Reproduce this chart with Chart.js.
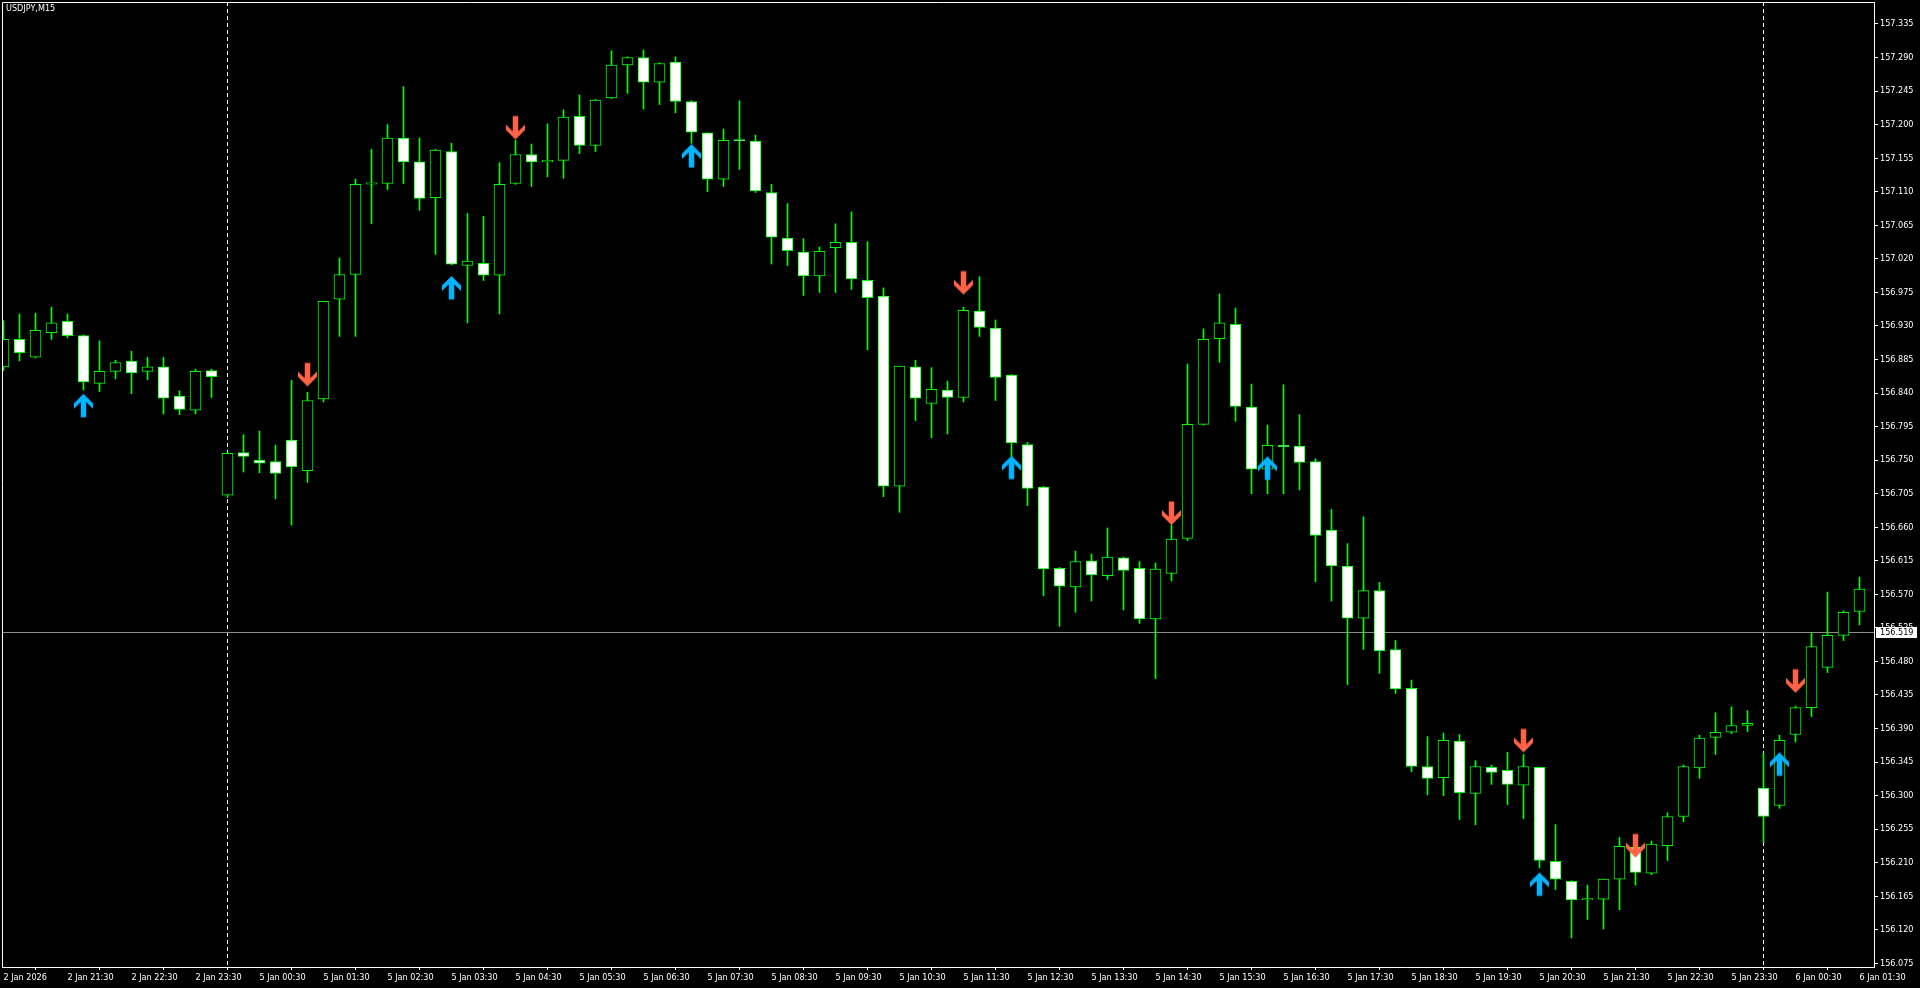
<!DOCTYPE html>
<html>
<head>
<meta charset="utf-8">
<title>USDJPY,M15</title>
<script src="https://cdn.jsdelivr.net/npm/chart.js@4.4.1/dist/chart.umd.min.js"></script>
<style>
  html, body { margin: 0; padding: 0; background: #000; overflow: hidden; }
  canvas { display: block; }
</style>
</head>
<body>
<canvas id="chart" width="1920" height="988"></canvas>
<script>
// USDJPY M15, 2 Jan 20:30 .. 6 Jan 01:30 (117 bars)
const opens = [
  156.875, 156.912, 156.888, 156.921, 156.936, 156.917, 156.853, 156.869, 156.883, 156.869,
  156.875, 156.836, 156.817, 156.870, 156.703, 156.760, 156.750, 156.748, 156.777, 156.736,
  156.832, 156.966, 156.999, 157.120, 157.121, 157.182, 157.150, 157.102, 157.164, 157.011,
  157.014, 156.998, 157.121, 157.160, 157.150, 157.152, 157.211, 157.172, 157.236, 157.280,
  157.290, 157.257, 157.284, 157.231, 157.189, 157.127, 157.180, 157.178, 157.109, 157.048,
  157.029, 156.997, 157.035, 157.042, 156.991, 156.970, 156.715, 156.875, 156.826, 156.844,
  156.834, 156.950, 156.927, 156.864, 156.771, 156.714, 156.605, 156.580, 156.615, 156.595,
  156.619, 156.605, 156.537, 156.598, 156.645, 156.798, 156.913, 156.932, 156.821, 156.738,
  156.770, 156.769, 156.748, 156.656, 156.608, 156.538, 156.575, 156.496, 156.444, 156.339,
  156.324, 156.373, 156.303, 156.338, 156.334, 156.314, 156.338, 156.212, 156.185, 156.160,
  156.161, 156.188, 156.231, 156.196, 156.233, 156.272, 156.337, 156.378, 156.385, 156.394,
  156.310, 156.287, 156.382, 156.418, 156.472, 156.515, 156.547
];
const highs = [
  156.937, 156.946, 156.947, 156.955, 156.946, 156.918, 156.910, 156.884, 156.896, 156.888,
  156.888, 156.843, 156.872, 156.872, 156.761, 156.784, 156.789, 156.770, 156.857, 156.841,
  156.963, 157.021, 157.127, 157.167, 157.200, 157.251, 157.182, 157.167, 157.175, 157.081,
  157.077, 157.149, 157.179, 157.174, 157.201, 157.220, 157.240, 157.234, 157.299, 157.291,
  157.300, 157.283, 157.291, 157.232, 157.189, 157.194, 157.232, 157.186, 157.120, 157.094,
  157.047, 157.036, 157.067, 157.083, 157.043, 156.981, 156.876, 156.884, 156.874, 156.856,
  156.955, 156.996, 156.938, 156.865, 156.774, 156.715, 156.606, 156.628, 156.624, 156.659,
  156.620, 156.614, 156.612, 156.663, 156.879, 156.926, 156.973, 156.954, 156.852, 156.797,
  156.851, 156.811, 156.752, 156.684, 156.638, 156.674, 156.586, 156.508, 156.455, 156.379,
  156.384, 156.382, 156.347, 156.341, 156.358, 156.355, 156.338, 156.261, 156.186, 156.180,
  156.188, 156.244, 156.234, 156.239, 156.277, 156.341, 156.381, 156.411, 156.419, 156.414,
  156.357, 156.381, 156.420, 156.518, 156.573, 156.548, 156.593
];
const lows = [
  156.870, 156.883, 156.887, 156.912, 156.914, 156.844, 156.842, 156.859, 156.839, 156.858,
  156.812, 156.811, 156.812, 156.834, 156.700, 156.734, 156.733, 156.698, 156.663, 156.720,
  156.828, 156.916, 156.916, 157.067, 157.113, 157.121, 157.085, 157.026, 157.012, 156.934,
  156.991, 156.946, 157.120, 157.117, 157.130, 157.128, 157.161, 157.164, 157.235, 157.242,
  157.221, 157.227, 157.216, 157.175, 157.110, 157.117, 157.140, 157.109, 157.013, 157.011,
  156.971, 156.975, 156.975, 156.979, 156.898, 156.701, 156.680, 156.803, 156.780, 156.785,
  156.828, 156.916, 156.830, 156.755, 156.689, 156.568, 156.527, 156.546, 156.561, 156.590,
  156.549, 156.531, 156.457, 156.588, 156.642, 156.797, 156.881, 156.802, 156.705, 156.705,
  156.705, 156.710, 156.587, 156.561, 156.449, 156.496, 156.464, 156.437, 156.332, 156.301,
  156.300, 156.268, 156.261, 156.315, 156.288, 156.269, 156.203, 156.174, 156.109, 156.134,
  156.121, 156.147, 156.180, 156.194, 156.213, 156.265, 156.323, 156.355, 156.383, 156.386,
  156.237, 156.283, 156.372, 156.406, 156.465, 156.508, 156.529
];
const closes = [
  156.912, 156.894, 156.924, 156.934, 156.917, 156.855, 156.869, 156.881, 156.867, 156.875,
  156.833, 156.818, 156.869, 156.862, 156.759, 156.755, 156.746, 156.732, 156.741, 156.830,
  156.963, 156.999, 157.120, 157.122, 157.182, 157.150, 157.101, 157.166, 157.013, 157.017,
  156.998, 157.120, 157.160, 157.150, 157.152, 157.210, 157.172, 157.233, 157.280, 157.290,
  157.257, 157.282, 157.231, 157.190, 157.127, 157.179, 157.178, 157.111, 157.049, 157.031,
  156.997, 157.030, 157.042, 156.993, 156.968, 156.715, 156.876, 156.833, 156.845, 156.834,
  156.951, 156.928, 156.861, 156.773, 156.712, 156.604, 156.581, 156.614, 156.596, 156.620,
  156.602, 156.537, 156.604, 156.644, 156.798, 156.912, 156.934, 156.822, 156.738, 156.770,
  156.768, 156.747, 156.649, 156.608, 156.538, 156.575, 156.494, 156.443, 156.339, 156.323,
  156.374, 156.304, 156.339, 156.331, 156.315, 156.339, 156.213, 156.188, 156.160, 156.162,
  156.188, 156.232, 156.197, 156.235, 156.272, 156.339, 156.377, 156.385, 156.394, 156.397,
  156.272, 156.374, 156.418, 156.500, 156.515, 156.546, 156.577
];

// signal arrows: bar index and price of the arrow tip
const upArrowIdx = [5, 28, 43, 63, 79, 96, 111];
const upArrowPrice = [156.839, 156.997, 157.174, 156.756, 156.755, 156.197, 156.358];
const dnArrowIdx = [19, 32, 60, 73, 95, 102, 112];
const dnArrowPrice = [156.849, 157.180, 156.972, 156.663, 156.358, 156.217, 156.438];

// period separators (first bar of the day)
const separatorIdx = [14, 110];
const bidPrice = 156.519;

const xLabelIdx = [0, 4, 8, 12, 16, 20, 24, 28, 32, 36, 40, 44, 48, 52, 56, 60, 64, 68, 72, 76,
                   80, 84, 88, 92, 96, 100, 104, 108, 112, 116];
const xLabelText = [
  '2 Jan 2026', '2 Jan 21:30', '2 Jan 22:30', '2 Jan 23:30',
  '5 Jan 00:30', '5 Jan 01:30', '5 Jan 02:30', '5 Jan 03:30', '5 Jan 04:30', '5 Jan 05:30',
  '5 Jan 06:30', '5 Jan 07:30', '5 Jan 08:30', '5 Jan 09:30', '5 Jan 10:30', '5 Jan 11:30',
  '5 Jan 12:30', '5 Jan 13:30', '5 Jan 14:30', '5 Jan 15:30', '5 Jan 16:30', '5 Jan 17:30',
  '5 Jan 18:30', '5 Jan 19:30', '5 Jan 20:30', '5 Jan 21:30', '5 Jan 22:30', '5 Jan 23:30',
  '6 Jan 00:30', '6 Jan 01:30'
];
const yTicks = [
  156.075, 156.120, 156.165, 156.210, 156.255, 156.300, 156.345, 156.390, 156.435, 156.480,
  156.525, 156.570, 156.615, 156.660, 156.705, 156.750, 156.795, 156.840, 156.885, 156.930,
  156.975, 157.020, 157.065, 157.110, 157.155, 157.200, 157.245, 157.290, 157.335
];

const FONT = '"DejaVu Sans Condensed", "Liberation Sans", Arial, sans-serif';
const GREEN = '#00ff00';

// wingdings-like thick arrow, tip sits at the centre of the canvas
function makeArrow(color, up) {
  const c = document.createElement('canvas');
  c.width = 21;
  c.height = 50;
  const g = c.getContext('2d');
  const cx = 10.5, cy = 25, s = up ? 1 : -1;
  const pts = [[0, 0], [9.5, 9.5], [9.5, 15], [2.75, 8.25], [2.75, 23.5], [-2.75, 23.5],
               [-2.75, 8.25], [-9.5, 15], [-9.5, 9.5]];
  g.fillStyle = color;
  g.beginPath();
  pts.forEach(([dx, dy], i) => {
    if (i === 0) g.moveTo(cx + dx, cy + s * dy);
    else g.lineTo(cx + dx, cy + s * dy);
  });
  g.closePath();
  g.fill();
  return c;
}

const mtPlugin = {
  id: 'mt',
  beforeDraw(chart) {
    const ctx = chart.ctx;
    ctx.save();
    ctx.fillStyle = '#000';
    ctx.fillRect(0, 0, chart.width, chart.height);
    ctx.restore();
  },
  beforeDatasetsDraw(chart) {
    const {ctx, chartArea: a, scales: {x, y}} = chart;
    ctx.save();
    ctx.strokeStyle = '#ffffff';
    ctx.lineWidth = 1;
    ctx.setLineDash([4, 3]);
    separatorIdx.forEach(i => {
      const px = Math.floor(x.getPixelForValue(i)) + 0.5;
      ctx.beginPath();
      ctx.moveTo(px, a.top);
      ctx.lineTo(px, a.bottom);
      ctx.stroke();
    });
    ctx.setLineDash([]);
    ctx.strokeStyle = '#8c8c8c';
    const by = Math.round(y.getPixelForValue(bidPrice)) + 0.5;
    ctx.beginPath();
    ctx.moveTo(a.left, by);
    ctx.lineTo(a.right, by);
    ctx.stroke();
    ctx.restore();
  },
  afterDraw(chart) {
    const {ctx, chartArea: a, scales: {y}} = chart;
    ctx.save();
    ctx.strokeStyle = '#ffffff';
    ctx.lineWidth = 1;
    ctx.beginPath();
    ctx.moveTo(a.left + 0.5, a.bottom);
    ctx.lineTo(a.left + 0.5, a.top + 0.5);
    ctx.lineTo(a.right, a.top + 0.5);
    ctx.stroke();

    ctx.font = '9px ' + FONT;
    ctx.textBaseline = 'middle';
    ctx.fillStyle = '#ffffff';
    ctx.fillText('USDJPY,M15', 6, 9);

    const by = Math.round(y.getPixelForValue(bidPrice));
    ctx.fillStyle = '#ffffff';
    ctx.fillRect(a.right + 2, by - 5, 41, 11);
    ctx.fillStyle = '#000000';
    ctx.fillText(bidPrice.toFixed(3), a.right + 6, by + 0.5);
    ctx.restore();
  }
};

new Chart(document.getElementById('chart'), {
  type: 'bar',
  data: {
    datasets: [
      {
        label: 'up',
        type: 'line',
        order: 1,
        showLine: false,
        data: upArrowIdx.map((v, i) => ({x: v, y: upArrowPrice[i]})),
        pointStyle: makeArrow('#00b4ff', true),
        pointRadius: 10
      },
      {
        label: 'down',
        type: 'line',
        order: 1,
        showLine: false,
        data: dnArrowIdx.map((v, i) => ({x: v, y: dnArrowPrice[i]})),
        pointStyle: makeArrow('#ff6347', false),
        pointRadius: 10
      },
      {
        label: 'body',
        order: 2,
        grouped: false,
        data: opens.map((o, i) => ({x: i, y: [o, closes[i]]})),
        backgroundColor: c => closes[c.dataIndex] < opens[c.dataIndex] ? '#ffffff' : '#000000',
        borderColor: GREEN,
        borderWidth: 1,
        borderSkipped: false,
        barThickness: 11
      },
      {
        label: 'wick',
        order: 3,
        grouped: false,
        data: lows.map((l, i) => ({x: i, y: [l, highs[i]]})),
        backgroundColor: GREEN,
        borderWidth: 0,
        barThickness: 1
      }
    ]
  },
  options: {
    responsive: false,
    animation: false,
    devicePixelRatio: 1,
    layout: { autoPadding: false, padding: { left: 2, top: 2, right: 0, bottom: 0 } },
    plugins: {
      legend: { display: false },
      tooltip: { enabled: false },
      title: { display: false }
    },
    scales: {
      x: {
        type: 'linear',
        min: -0.09375,
        max: 116.90625,
        offset: false,
        afterBuildTicks: s => { s.ticks = xLabelIdx.map(v => ({value: v})); },
        afterFit: s => { s.height = 21; s.paddingLeft = 0; s.paddingRight = 0; },
        grid: { drawOnChartArea: false, color: '#ffffff', tickLength: 3 },
        border: { color: '#ffffff', width: 1 },
        ticks: {
          autoSkip: false,
          maxRotation: 0,
          minRotation: 0,
          align: 'start',
          padding: 2,
          color: '#ffffff',
          font: { family: FONT, size: 9 },
          callback: (v, i) => xLabelText[i]
        }
      },
      y: {
        type: 'linear',
        position: 'right',
        min: 156.0701,
        max: 157.3645,
        afterBuildTicks: s => { s.ticks = yTicks.map(v => ({value: v})); },
        afterFit: s => { s.width = 46; s.paddingTop = 0; s.paddingBottom = 0; },
        grid: { drawOnChartArea: false, color: '#ffffff', tickLength: 4 },
        border: { color: '#ffffff', width: 1 },
        ticks: {
          padding: 2,
          color: '#ffffff',
          font: { family: FONT, size: 9 },
          callback: v => v.toFixed(3)
        }
      }
    }
  },
  plugins: [mtPlugin]
});
</script>
</body>
</html>
